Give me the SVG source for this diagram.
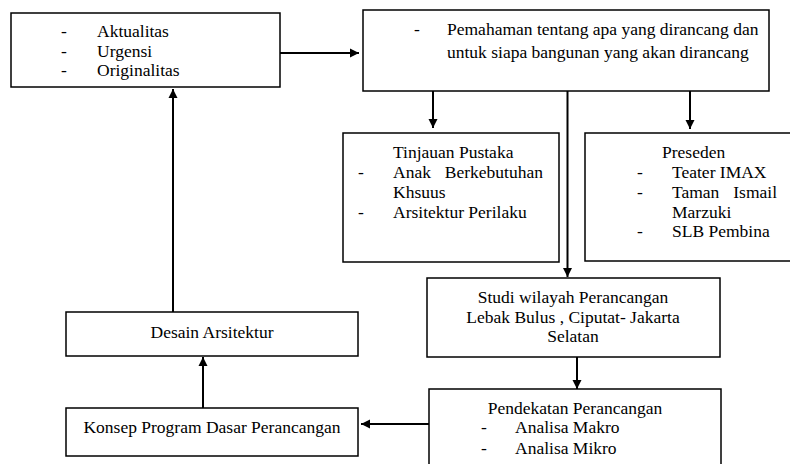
<svg xmlns="http://www.w3.org/2000/svg" width="790" height="464" viewBox="0 0 790 464">
<defs>
<marker id="ah" viewBox="0 0 10 10" refX="10" refY="5" markerWidth="9" markerHeight="10" markerUnits="userSpaceOnUse" orient="auto">
<path d="M0,0 L10,5 L0,10 z" fill="#000"/>
</marker>
</defs>
<rect width="790" height="464" fill="#fff"/>
<g id="connectors" stroke="#000" stroke-width="2" fill="none">
<line x1="280" y1="53" x2="359" y2="53" marker-end="url(#ah)"/>
<line x1="433" y1="91" x2="433" y2="128" marker-end="url(#ah)"/>
<line x1="690" y1="91" x2="690" y2="129" marker-end="url(#ah)"/>
<line x1="567.5" y1="91" x2="567.5" y2="277" marker-end="url(#ah)"/>
<line x1="577" y1="357" x2="577" y2="389" marker-end="url(#ah)"/>
<line x1="429" y1="424" x2="361" y2="424" marker-end="url(#ah)"/>
<line x1="203" y1="408" x2="203" y2="357" marker-end="url(#ah)"/>
<line x1="173" y1="312" x2="173" y2="89" marker-end="url(#ah)"/>
</g>
<g id="node-1">
<rect x="11" y="13" width="269" height="74" fill="#fff" stroke="#000" stroke-width="1.5"/>
<text font-family="Liberation Serif" font-size="17.5" x="61" y="37">-</text><text font-family="Liberation Serif" font-size="17.5" x="97" y="37">Aktualitas</text>
<text font-family="Liberation Serif" font-size="17.5" x="61" y="57">-</text><text font-family="Liberation Serif" font-size="17.5" x="97" y="57">Urgensi</text>
<text font-family="Liberation Serif" font-size="17.5" x="61" y="76">-</text><text font-family="Liberation Serif" font-size="17.5" x="97" y="76">Originalitas</text>
</g>
<g id="node-2">
<rect x="363" y="10" width="406" height="81" fill="#fff" stroke="#000" stroke-width="1.5"/>
<text font-family="Liberation Serif" font-size="17.5" x="414" y="35">-</text>
<text font-family="Liberation Serif" font-size="17.5" x="447" y="35">Pemahaman tentang apa yang dirancang dan</text>
<text font-family="Liberation Serif" font-size="17.5" x="447" y="58">untuk siapa bangunan yang akan dirancang</text>
</g>
<g id="node-3">
<rect x="343" y="133" width="216" height="129" fill="#fff" stroke="#000" stroke-width="1.5"/>
<text font-family="Liberation Serif" font-size="17.5" x="393" y="158">Tinjauan Pustaka</text>
<text font-family="Liberation Serif" font-size="17.5" x="358" y="178">-</text>
<text font-family="Liberation Serif" font-size="17.5" x="393" y="178">Anak</text><text font-family="Liberation Serif" font-size="17.5" x="543" y="178" text-anchor="end">Berkebutuhan</text>
<text font-family="Liberation Serif" font-size="17.5" x="393" y="198">Khsuus</text>
<text font-family="Liberation Serif" font-size="17.5" x="358" y="218">-</text><text font-family="Liberation Serif" font-size="17.5" x="393" y="218">Arsitektur Perilaku</text>
</g>
<g id="node-4">
<rect x="585" y="133" width="215" height="128" fill="#fff" stroke="#000" stroke-width="1.5"/>
<text font-family="Liberation Serif" font-size="17.5" x="662" y="158">Preseden</text>
<text font-family="Liberation Serif" font-size="17.5" x="637" y="178">-</text><text font-family="Liberation Serif" font-size="17.5" x="672" y="178">Teater IMAX</text>
<text font-family="Liberation Serif" font-size="17.5" x="637" y="198">-</text>
<text font-family="Liberation Serif" font-size="17.5" x="672" y="198">Taman</text><text font-family="Liberation Serif" font-size="17.5" x="777" y="198" text-anchor="end">Ismail</text>
<text font-family="Liberation Serif" font-size="17.5" x="672" y="218">Marzuki</text>
<text font-family="Liberation Serif" font-size="17.5" x="637" y="237">-</text><text font-family="Liberation Serif" font-size="17.5" x="672" y="237">SLB Pembina</text>
</g>
<g id="node-5">
<rect x="427" y="278" width="293" height="79" fill="#fff" stroke="#000" stroke-width="1.5"/>
<text font-family="Liberation Serif" font-size="17.5" text-anchor="middle" x="573" y="303">Studi wilayah Perancangan</text>
<text font-family="Liberation Serif" font-size="17.5" text-anchor="middle" x="573" y="323">Lebak Bulus , Ciputat- Jakarta</text>
<text font-family="Liberation Serif" font-size="17.5" text-anchor="middle" x="573" y="342">Selatan</text>
</g>
<g id="node-6">
<rect x="429" y="389" width="292" height="80" fill="#fff" stroke="#000" stroke-width="1.5"/>
<text font-family="Liberation Serif" font-size="17.5" text-anchor="middle" x="575" y="414">Pendekatan Perancangan</text>
<text font-family="Liberation Serif" font-size="17.5" x="481" y="433">-</text><text font-family="Liberation Serif" font-size="17.5" x="515" y="433">Analisa Makro</text>
<text font-family="Liberation Serif" font-size="17.5" x="481" y="454">-</text><text font-family="Liberation Serif" font-size="17.5" x="515" y="454">Analisa Mikro</text>
</g>
<g id="node-7">
<rect x="66" y="312" width="292" height="44" fill="#fff" stroke="#000" stroke-width="1.5"/>
<text font-family="Liberation Serif" font-size="17.5" text-anchor="middle" x="212" y="338">Desain Arsitektur</text>
</g>
<g id="node-8">
<rect x="66" y="408" width="292" height="48" fill="#fff" stroke="#000" stroke-width="1.5"/>
<text font-family="Liberation Serif" font-size="17.5" text-anchor="middle" x="212" y="433">Konsep Program Dasar Perancangan</text>
</g>
</svg>
